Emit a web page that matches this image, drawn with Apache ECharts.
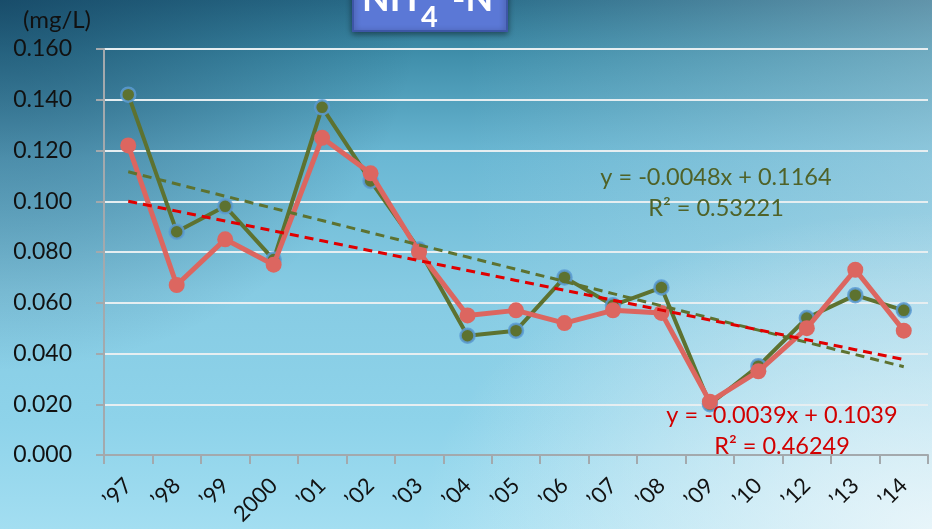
<!DOCTYPE html>
<html>
<head>
<meta charset="utf-8">
<script src="https://cdn.jsdelivr.net/npm/echarts@6/dist/echarts.min.js"></script>
<style>
html,body{margin:0;padding:0;}
body{width:932px;height:529px;overflow:hidden;
background:
 radial-gradient(ellipse 45% 70% at 0% 0%, rgba(10,50,80,0.55) 0%, rgba(10,50,80,0) 100%),
 radial-gradient(ellipse 55% 60% at 100% 100%, rgba(240,248,251,0.85) 0%, rgba(240,248,251,0) 100%),
 linear-gradient(to right, rgba(255,255,255,0) 50%, rgba(225,238,244,0.3) 100%),
 linear-gradient(to bottom, #2a6d8a 0%, #3f8eaa 10%, #6bb8d4 30%, #86cbe3 55%, #8ed3ea 80%, #a3def1 100%);
}
#chart{width:932px;height:529px;}
</style>
</head>
<body>
<div id="chart"></div>
<script>
var categories = ["\u201997","\u201998","\u201999","2000","\u201901","\u201902","\u201903","\u201904","\u201905","\u201906","\u201907","\u201908","\u201909","\u201910","\u201912","\u201913","\u201914"];
var greenValues = [0.142,0.088,0.098,0.077,0.137,0.108,0.081,0.047,0.049,0.070,0.059,0.066,0.020,0.035,0.054,0.063,0.057];
var redValues   = [0.122,0.067,0.085,0.075,0.125,0.111,0.080,0.055,0.057,0.052,0.057,0.056,0.021,0.033,0.050,0.073,0.049];
var greenTrend = {slope: -0.0048, intercept: 0.1164};
var redTrend   = {slope: -0.0039, intercept: 0.1039};
var greenEq = ["y = -0.0048x + 0.1164", "R\u00b2 = 0.53221"];
var redEq   = ["y = -0.0039x + 0.1039", "R\u00b2 = 0.46249"];
var yTicks = {min: 0, max: 0.16, interval: 0.02};

function trend(t){ return categories.map(function(c,i){ return +(t.slope*(i+1)+t.intercept).toFixed(5); }); }

var FONT = "Lato, 'Open Sans', sans-serif";
var chart = echarts.init(document.getElementById('chart'), null, {renderer:'canvas'});
chart.setOption({
  backgroundColor: 'transparent',
  animation: false,
  grid: {left: 104, right: 4, top: 49, bottom: 74, containLabel: false},
  xAxis: {
    type: 'category', data: categories, boundaryGap: true,
    axisLine: {show: true, lineStyle: {color: '#a3a9ad', width: 2}},
    axisTick: {show: true, interval: 0, length: 9, lineStyle: {color: '#a3a9ad', width: 2}},
    axisLabel: {interval: 0, rotate: 45, margin: 27, color: '#111', fontSize: 22, fontFamily: FONT},
    splitLine: {show: false}
  },
  yAxis: {
    type: 'value', min: yTicks.min, max: yTicks.max, interval: yTicks.interval,
    axisLine: {show: true, lineStyle: {color: '#a3a9ad', width: 2}},
    axisTick: {show: true, length: 8, lineStyle: {color: '#a3a9ad', width: 2}},
    axisLabel: {color: '#111', fontSize: 23, fontFamily: FONT, margin: 32, padding: [6, 0, 0, 0],
      formatter: function(v){ return v.toFixed(3); }},
    splitLine: {show: true, lineStyle: {color: '#e6eef1', width: 2}}
  },
  series: [
    {type: 'line', name: 'green', data: greenValues, z: 3,
     lineStyle: {color: '#5d7230', width: 4},
     symbol: 'circle', symbolSize: 14,
     itemStyle: {color: '#5d7230', borderColor: 'rgba(91,155,213,0.85)', borderWidth: 2.5}},
    {type: 'line', name: 'red', data: redValues, z: 4,
     lineStyle: {color: '#dc6660', width: 5},
     symbol: 'circle', symbolSize: 16,
     itemStyle: {color: '#dc6660', borderWidth: 0}},
    {type: 'line', name: 'greenTrend', data: trend(greenTrend), z: 5, symbol: 'none',
     lineStyle: {color: '#5d7230', width: 3, type: [9, 6]}},
    {type: 'line', name: 'redTrend', data: trend(redTrend), z: 6, symbol: 'none',
     lineStyle: {color: '#e00000', width: 3, type: [9, 6]}}
  ],
  graphic: [
    {type: 'text', left: 23, top: 8, z: 10,
     style: {text: '(mg/L)', fill: '#111', font: '24px ' + FONT}},
    {type: 'rect', z: 10, shape: {x: 353, y: -12, width: 154, height: 43},
     style: {fill: '#5b78d6', stroke: '#3d56a6', lineWidth: 2, shadowBlur: 6, shadowColor: 'rgba(0,0,0,0.45)', shadowOffsetY: 2}},
    {type: 'text', z: 11, style: {text: 'NH', x: 362, y: 17, textVerticalAlign: 'bottom', fill: '#fff', font: 'bold 36px ' + FONT}},
    {type: 'text', z: 11, style: {text: '4', x: 421, y: 32, textVerticalAlign: 'bottom', fill: '#fff', font: 'bold 29px ' + FONT}},
    {type: 'text', z: 11, style: {text: '+', x: 435, y: 4, textVerticalAlign: 'bottom', fill: '#fff', font: 'bold 24px ' + FONT}},
    {type: 'text', z: 11, style: {text: '-N', x: 452, y: 17, textVerticalAlign: 'bottom', fill: '#fff', font: 'bold 36px ' + FONT}},
    {type: 'text', z: 10, style: {text: greenEq[0], x: 716, y: 177, textAlign: 'center', textVerticalAlign: 'middle', fill: '#4f6228', font: '23.5px ' + FONT}},
    {type: 'text', z: 10, style: {text: greenEq[1], x: 716, y: 208, textAlign: 'center', textVerticalAlign: 'middle', fill: '#4f6228', font: '23.5px ' + FONT}},
    {type: 'text', z: 10, style: {text: redEq[0], x: 782, y: 415, textAlign: 'center', textVerticalAlign: 'middle', fill: '#d20000', font: '23.5px ' + FONT}},
    {type: 'text', z: 10, style: {text: redEq[1], x: 782, y: 446, textAlign: 'center', textVerticalAlign: 'middle', fill: '#d20000', font: '23.5px ' + FONT}}
  ]
});
</script>
</body>
</html>
